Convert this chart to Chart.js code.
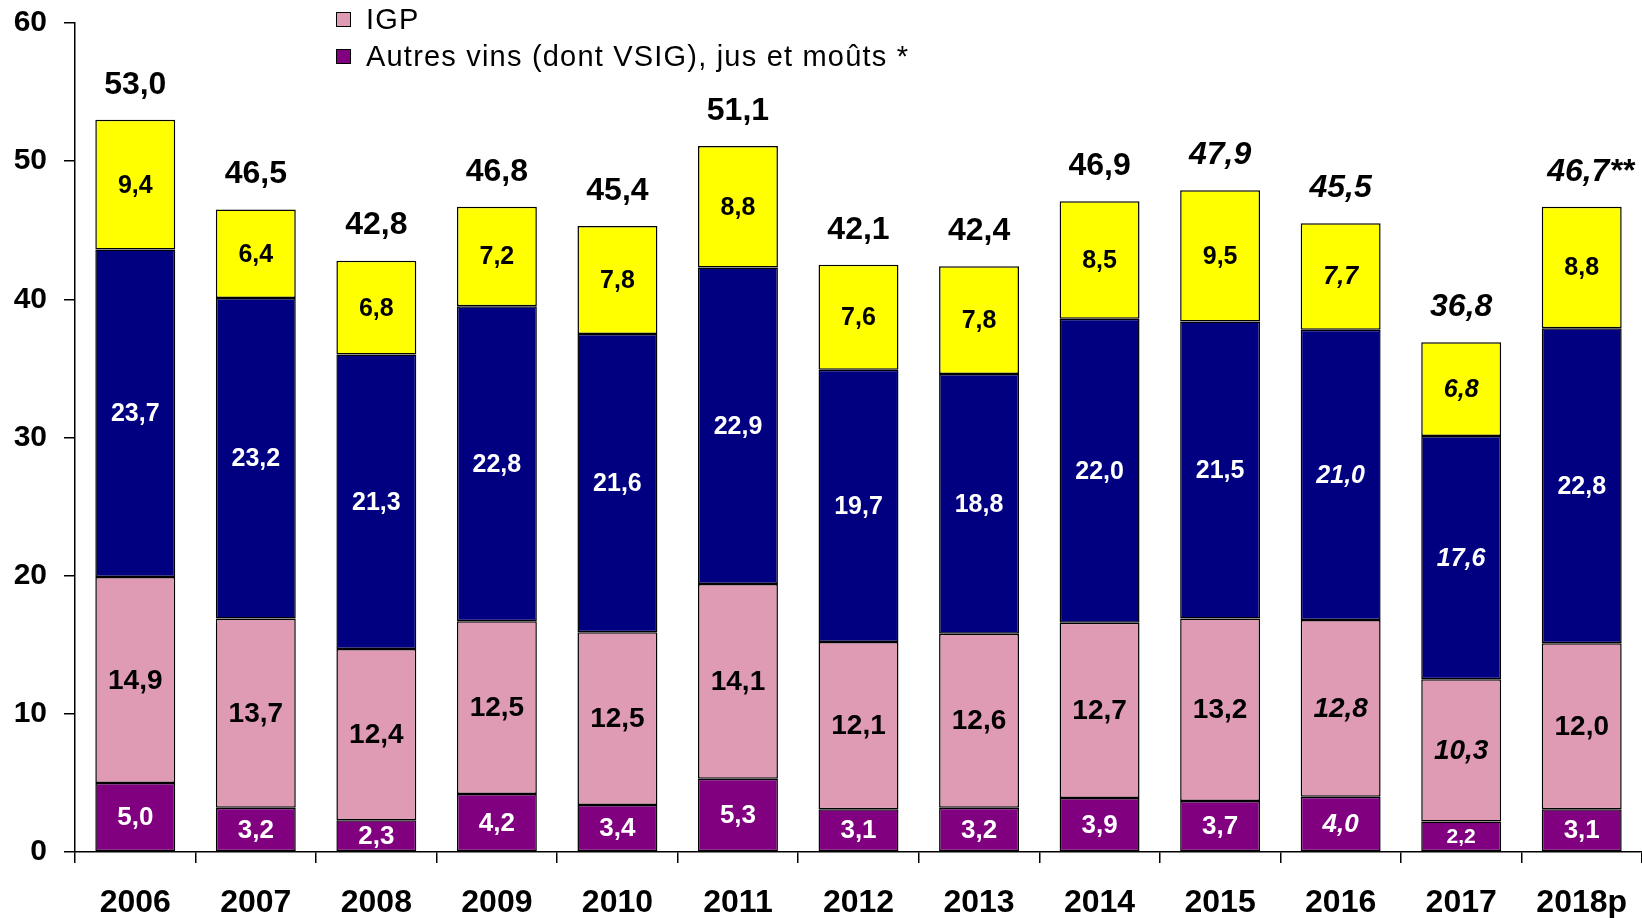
<!DOCTYPE html>
<html>
<head>
<meta charset="utf-8">
<title>Production de vins</title>
<script src="https://cdn.jsdelivr.net/npm/chart.js@4.4.1/dist/chart.umd.min.js"></script>
<style>
    html, body { margin: 0; padding: 0; background: #fff; }
    #wrap { position: relative; width: 1642px; height: 918px; overflow: hidden; }
    #legend {
        position: absolute; left: 336px; top: 1px;
        font-family: 'Liberation Sans', Arial, sans-serif; font-size: 29px; letter-spacing: 1.2px; color: #000;
    }
    #legend .item { display: flex; align-items: center; height: 37px; white-space: nowrap; }
    #legend .box { width: 13px; height: 13px; border: 1px solid #000; margin-right: 15px; }
</style>
</head>
<body>
<div id="wrap">
    <canvas id="wineChart" width="1642" height="918"></canvas>
    <div id="legend">
        <div class="item"><span class="box" style="background:#df9ab4"></span>IGP</div>
        <div class="item"><span class="box" style="background:#800080"></span>Autres vins (dont VSIG), jus et moûts *</div>
    </div>
</div>
<script>
// 数据
const years = ['2006', '2007', '2008', '2009', '2010', '2011', '2012', '2013', '2014', '2015', '2016', '2017', '2018p'];
const autresVins = [5.0, 3.2, 2.3, 4.2, 3.4, 5.3, 3.1, 3.2, 3.9, 3.7, 4.0, 2.2, 3.1];
const igp = [14.9, 13.7, 12.4, 12.5, 12.5, 14.1, 12.1, 12.6, 12.7, 13.2, 12.8, 10.3, 12.0];
const aop = [23.7, 23.2, 21.3, 22.8, 21.6, 22.9, 19.7, 18.8, 22.0, 21.5, 21.0, 17.6, 22.8];
const eauxDeVie = [9.4, 6.4, 6.8, 7.2, 7.8, 8.8, 7.6, 7.8, 8.5, 9.5, 7.7, 6.8, 8.8];
const totals = [53.0, 46.5, 42.8, 46.8, 45.4, 51.1, 42.1, 42.4, 46.9, 47.9, 45.5, 36.8, 46.7];
const totalSuffix = ['', '', '', '', '', '', '', '', '', '', '', '', '**'];
const yTicks = [0, 10, 20, 30, 40, 50, 60];

// 斜体年份
const italicSegmentYears = ['2016', '2017'];
const italicTotalYears = ['2015', '2016', '2017', '2018p'];

const FONT = "'Liberation Sans', Arial, sans-serif";

function fmt(v) {
    return v.toFixed(1).replace('.', ',');
}

// 柱内数值和总数标签
const barLabels = {
    id: 'barLabels',
    afterDatasetsDraw(chart) {
        const ctx = chart.ctx;
        ctx.save();
        ctx.textAlign = 'center';
        ctx.textBaseline = 'middle';
        chart.data.datasets.forEach((ds, di) => {
            const meta = chart.getDatasetMeta(di);
            meta.data.forEach((bar, i) => {
                const h = bar.base - bar.y;
                let size = ds.labelSize;
                let italic = italicSegmentYears.includes(years[i]);
                if (h < 31) { size = 21; italic = false; }
                ctx.font = (italic ? 'italic ' : '') + 'bold ' + size + 'px ' + FONT;
                ctx.fillStyle = ds.labelColor;
                ctx.fillText(fmt(ds.data[i]), bar.x, (bar.y + bar.base) / 2 + 1);
            });
        });
        const topMeta = chart.getDatasetMeta(chart.data.datasets.length - 1);
        topMeta.data.forEach((bar, i) => {
            const italic = italicTotalYears.includes(years[i]);
            ctx.font = (italic ? 'italic ' : '') + 'bold 32px ' + FONT;
            ctx.fillStyle = '#000';
            const txt = fmt(totals[i]) + totalSuffix[i];
            const shift = totalSuffix[i] ? 9 : 0;
            ctx.fillText(txt, bar.x + shift, bar.y - 35);
        });
        ctx.restore();
    }
};

function makeSeries(label, data, color, labelColor, labelSize) {
    return {
        label: label,
        data: data,
        backgroundColor: color,
        borderColor: '#000',
        borderWidth: 1.5,
        borderSkipped: false,
        labelColor: labelColor,
        labelSize: labelSize
    };
}

const ctx = document.getElementById('wineChart').getContext('2d');
window.wineChart = new Chart(ctx, {
    type: 'bar',
    data: {
        labels: years,
        datasets: [
            makeSeries('Autres vins (dont VSIG), jus et moûts *', autresVins, '#800080', '#fff', 26),
            makeSeries('IGP', igp, '#df9ab4', '#000', 28),
            makeSeries('AOP', aop, '#000080', '#fff', 25),
            makeSeries('Vins pour eaux-de-vie', eauxDeVie, '#ffff00', '#000', 25)
        ]
    },
    options: {
        responsive: false,
        animation: false,
        devicePixelRatio: 1,
        layout: { padding: { top: 23, left: 0, right: 0, bottom: 0 } },
        datasets: {
            bar: { barPercentage: 0.663, categoryPercentage: 1.0 }
        },
        scales: {
            x: {
                stacked: true,
                grid: {
                    offset: true,
                    drawOnChartArea: false,
                    drawTicks: true,
                    tickLength: 11,
                    color: '#000',
                    lineWidth: 1.5
                },
                border: { display: true, color: '#000', width: 1.5 },
                ticks: {
                    color: '#000',
                    padding: 21,
                    maxRotation: 0,
                    font: { family: FONT, size: 32, weight: 'bold' }
                },
                afterFit(scale) {
                    scale.height = 66;
                    scale.paddingLeft = 0;
                    scale.paddingRight = 0;
                }
            },
            y: {
                stacked: true,
                min: 0,
                max: 60,
                grid: {
                    drawOnChartArea: false,
                    drawTicks: true,
                    tickLength: 11,
                    color: '#000',
                    lineWidth: 1.5
                },
                border: { display: true, color: '#000', width: 1.5 },
                afterBuildTicks(scale) {
                    scale.ticks = yTicks.map(v => ({ value: v }));
                },
                ticks: {
                    color: '#000',
                    padding: 17,
                    font: { family: FONT, size: 30, weight: 'bold' }
                },
                afterFit(scale) {
                    scale.width = 75;
                    scale.paddingTop = 0;
                    scale.paddingBottom = 0;
                }
            }
        },
        plugins: {
            legend: { display: false },
            tooltip: { enabled: false }
        }
    },
    plugins: [barLabels]
});
</script>
</body>
</html>
